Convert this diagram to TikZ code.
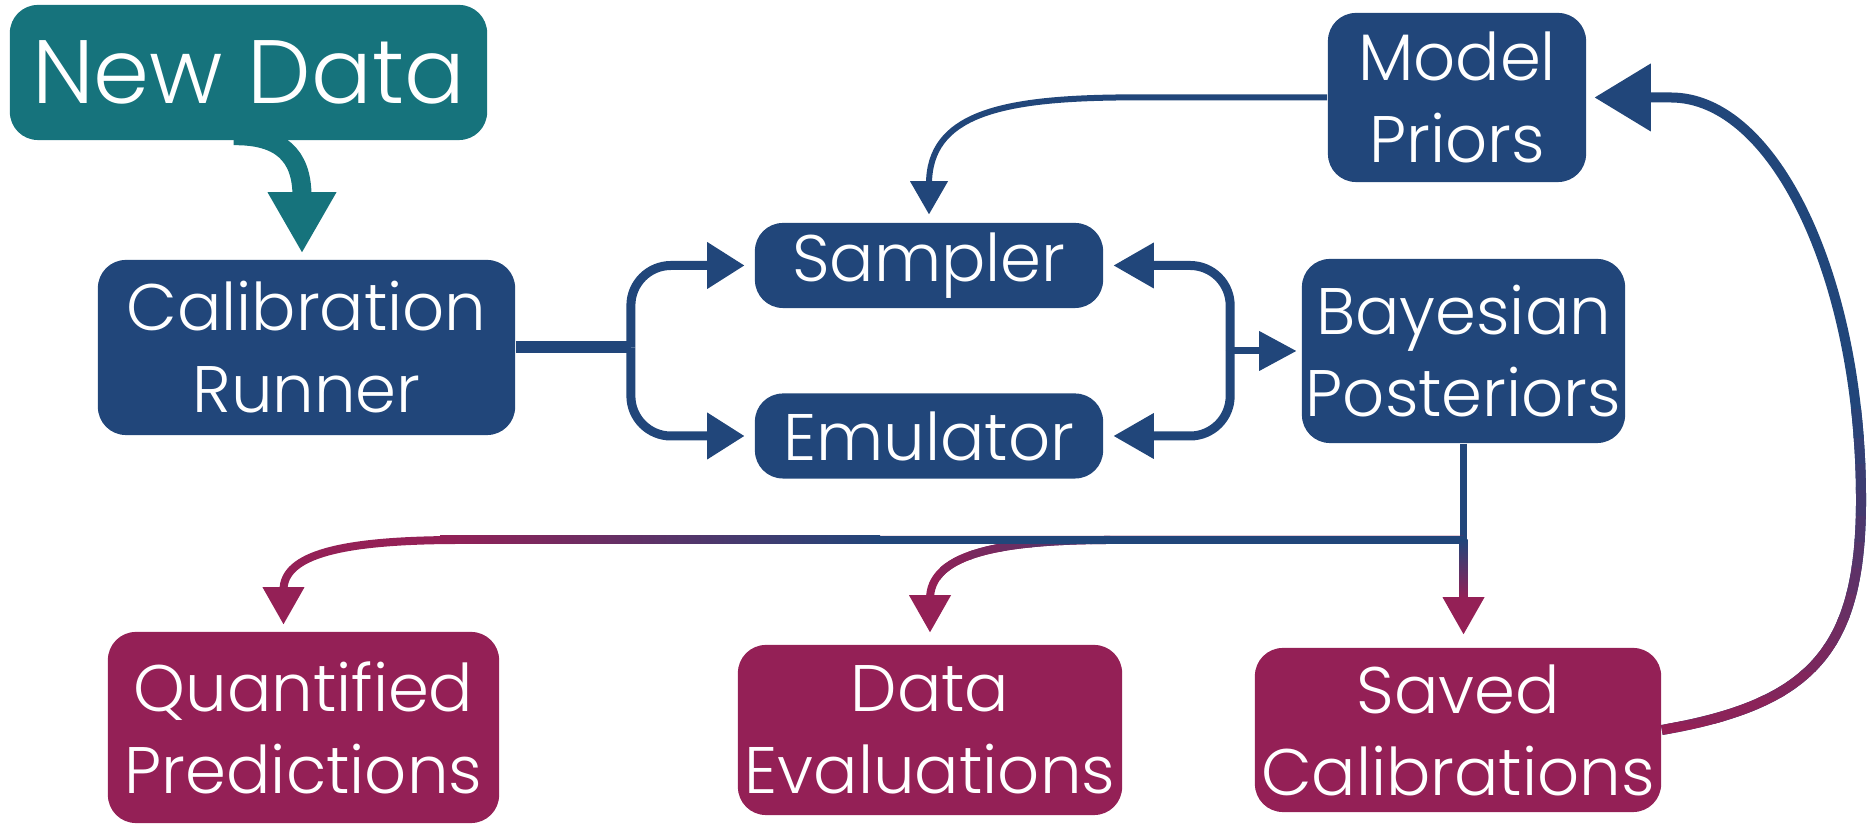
\documentclass[tikz,border=0pt]{standalone}
\usepackage{fontspec}
\setmainfont{Poppins Light}
\usetikzlibrary{positioning}
\usepackage{xcolor}
\definecolor{calblue}{RGB}{33,70,122}
\definecolor{calteal}{RGB}{22,115,124}
\definecolor{calberry}{RGB}{148,32,86}
\tikzset{pics/head/.style 2 args={code={\fill[sharp corners] (0,0) -- (-#2,#1/2) .. controls (-#2,#1/6) and (-#2,-#1/6) .. (-#2,-#1/2) -- cycle;}}}

\begin{document}
\begin{tikzpicture}[x=0.01cm,y=0.01cm,box/.style={rounded corners=0.28cm,inner sep=0pt,align=center,text=white,font=\fontsize{18.7}{23.3}\selectfont}]
    \useasboundingbox (0,0) rectangle (1870,825);
    \node[box,fill=calteal,minimum width=4.77cm,minimum height=1.35cm,font=\fontsize{25.6}{30}\selectfont] (newdata) at (248.5,752.5) {New Data};
    \node[box,fill=calblue,minimum width=4.17cm,minimum height=1.75cm] (runner) at (306.5,477.5) {Calibration\\Runner};
    \node[box,fill=calblue,minimum width=3.48cm,minimum height=0.85cm] (sampler) at (929,559.5) {Sampler};
    \node[box,fill=calblue,minimum width=3.48cm,minimum height=0.85cm,below=0.84cm of sampler] (emulator) {Emulator};
    \node[box,fill=calblue,minimum width=2.58cm,minimum height=1.69cm] (priors) at (1457,727.5) {Model\\Priors};
    \node[box,fill=calblue,minimum width=3.23cm,minimum height=1.84cm] (bayes) at (1463.5,474) {Bayesian\\Posteriors};
    \node[box,fill=calberry,minimum width=3.91cm,minimum height=1.91cm] (quant) at (303.5,97.5) {Quantified\\Predictions};
    \node[box,fill=calberry,minimum width=3.84cm,minimum height=1.70cm] (dataeval) at (930,95) {Data\\Evaluations};
    \node[box,fill=calberry,minimum width=4.06cm,minimum height=1.64cm] (saved) at (1458,95) {Saved\\Calibrations};
    \coordinate (split) at ([xshift=1.15cm]runner.east);
    \coordinate (merge) at ([xshift=-0.71cm]bayes.west);
    \coordinate (junc) at (bayes.south |- 0,285);
    \draw[calteal,line width=0.19cm] ([xshift=-0.15cm,yshift=0.05cm]newdata.south) .. controls (280,690) and (302,670) .. ([xshift=-0.045cm,yshift=0.63cm]runner.north);
    \pic[calteal,rotate=-90] at ([xshift=-0.045cm,yshift=0.07cm]runner.north) {head={69}{60}};
    \draw[calblue,line width=0.12cm] (runner.east) -- (split);
    \draw[calblue,line width=0.09cm,rounded corners=0.4cm] (split) |- ([xshift=-0.44cm]sampler.west);
    \draw[calblue,line width=0.09cm,rounded corners=0.4cm] (split) |- ([xshift=-0.44cm]emulator.west);
    \pic[calblue] at ([xshift=-0.1cm]sampler.west) {head={47}{37}};
    \pic[calblue] at ([xshift=-0.1cm]emulator.west) {head={47}{37}};
    \draw[calblue,line width=0.09cm,rounded corners=0.4cm] (merge) |- ([xshift=0.47cm]sampler.east);
    \draw[calblue,line width=0.09cm,rounded corners=0.4cm] (merge) |- ([xshift=0.47cm]emulator.east);
    \pic[calblue,rotate=180] at ([xshift=0.1cm]sampler.east) {head={46}{40}};
    \pic[calblue,rotate=180] at ([xshift=0.1cm]emulator.east) {head={46}{40}};
    \draw[calblue,line width=0.07cm] (merge) -- ([xshift=-0.39cm]bayes.west);
    \pic[calblue] at ([xshift=-0.05cm]bayes.west) {head={40}{37}};
    \draw[calblue,line width=0.06cm] (priors.west) -- ++(-2.1cm,0cm) .. controls (1000,726) and (929,710) .. ([yshift=0.38cm]sampler.north);
    \pic[calblue,rotate=-90] at ([yshift=0.08cm]sampler.north) {head={38}{33}};
    \draw[calblue,line width=0.07cm] (bayes.south) -- (junc);
    \draw[calberry,line width=0.08cm] (junc) -- (460,285) .. controls (340,285) and (283.5,270) .. ([xshift=-0.2cm,yshift=0.41cm]quant.north);
    \draw[calberry,line width=0.08cm] (junc) -- (1110,285) .. controls (990,285) and (930,268) .. ([yshift=0.45cm]dataeval.north);
    \draw[calberry,line width=0.08cm] (junc) -- ([yshift=0.46cm]junc |- saved.north);
    \pic[calberry,rotate=-90] at ([xshift=-0.2cm,yshift=0.07cm]quant.north) {head={42}{37}};
    \pic[calberry,rotate=-90] at ([yshift=0.12cm]dataeval.north) {head={42}{37}};
    \pic[calberry,rotate=-90] at ([yshift=0.13cm]junc |- saved.north) {head={42}{37}};
    \foreach \i in {0,...,5}{
      \pgfmathsetmacro\mix{(\i+1)*12}
      \begin{scope}
        \clip ({940+\i*30},220) rectangle ({972+\i*30},300);
        \draw[calblue!\mix!calberry,line width=0.08cm] (1110,285) .. controls (990,285) and (930,268) .. ([yshift=0.45cm]dataeval.north);
      \end{scope}
    }
    \draw[calblue,line width=0.08cm] (880,285) -- (junc);
    \shade[left color=calberry,right color=calblue] (440,281) rectangle (880,289);
    \shade[bottom color=calberry,top color=calblue] ([xshift=-0.04cm,yshift=-0.58cm]junc) rectangle ([xshift=0.04cm]junc);
    \draw[calblue,line width=0.1cm] (saved.east) .. controls (1812,121) and (1861,175) .. (1861,325) .. controls (1861,546) and (1775,727.5) .. ([xshift=0.84cm]priors.east) -- ([xshift=0.52cm]priors.east);
    \pic[calblue,rotate=180] at ([xshift=0.08cm]priors.east) {head={68}{56}};
    \foreach \i in {0,...,12}{
      \pgfmathsetmacro\mix{100-\i*100/13}
      \begin{scope}
        \clip (1600,{75+\i*26}) rectangle (1870,{103+\i*26});
        \draw[calberry!\mix!calblue,line width=0.1cm] (saved.east) .. controls (1812,121) and (1861,175) .. (1861,325) .. controls (1861,546) and (1775,727.5) .. ([xshift=0.84cm]priors.east);
      \end{scope}
    }
\end{tikzpicture}
\end{document}
